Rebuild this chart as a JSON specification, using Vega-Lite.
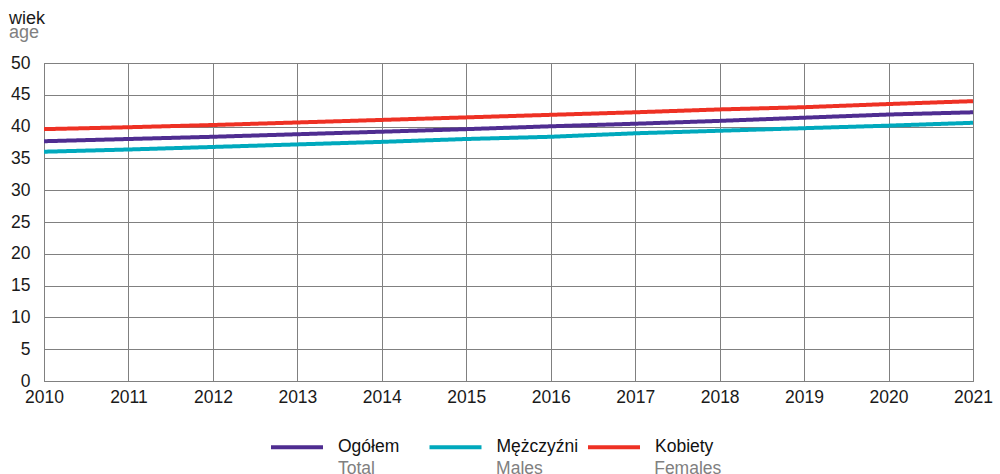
{
  "$schema": "https://vega.github.io/schema/vega-lite/v6.json",
  "width": 929,
  "height": 318,
  "autosize": {"type": "none"},
  "padding": {"left": 44, "top": 63, "right": 27, "bottom": 93},
  "background": "white",
  "config": {
    "font": "Liberation Sans",
    "view": {"stroke": "#808080", "strokeWidth": 1}
  },
  "title": {
    "text": "wiek",
    "subtitle": "age",
    "anchor": "start",
    "frame": "group",
    "dx": -35,
    "fontSize": 18,
    "fontWeight": "normal",
    "color": "#1a1a1a",
    "subtitleFontSize": 18,
    "subtitleColor": "#808080",
    "subtitlePadding": -4,
    "offset": 12
  },
  "data": {
    "values": [
      {"year": 2010, "series": "Ogółem", "en": "Total", "value": 37.7},
      {"year": 2011, "series": "Ogółem", "en": "Total", "value": 38.05},
      {"year": 2012, "series": "Ogółem", "en": "Total", "value": 38.4},
      {"year": 2013, "series": "Ogółem", "en": "Total", "value": 38.8},
      {"year": 2014, "series": "Ogółem", "en": "Total", "value": 39.2},
      {"year": 2015, "series": "Ogółem", "en": "Total", "value": 39.6},
      {"year": 2016, "series": "Ogółem", "en": "Total", "value": 40.05},
      {"year": 2017, "series": "Ogółem", "en": "Total", "value": 40.45},
      {"year": 2018, "series": "Ogółem", "en": "Total", "value": 40.9},
      {"year": 2019, "series": "Ogółem", "en": "Total", "value": 41.4},
      {"year": 2020, "series": "Ogółem", "en": "Total", "value": 41.9},
      {"year": 2021, "series": "Ogółem", "en": "Total", "value": 42.25},
      {"year": 2010, "series": "Mężczyźni", "en": "Males", "value": 36.05},
      {"year": 2011, "series": "Mężczyźni", "en": "Males", "value": 36.4},
      {"year": 2012, "series": "Mężczyźni", "en": "Males", "value": 36.8},
      {"year": 2013, "series": "Mężczyźni", "en": "Males", "value": 37.2},
      {"year": 2014, "series": "Mężczyźni", "en": "Males", "value": 37.6},
      {"year": 2015, "series": "Mężczyźni", "en": "Males", "value": 38.05},
      {"year": 2016, "series": "Mężczyźni", "en": "Males", "value": 38.4},
      {"year": 2017, "series": "Mężczyźni", "en": "Males", "value": 38.95},
      {"year": 2018, "series": "Mężczyźni", "en": "Males", "value": 39.35},
      {"year": 2019, "series": "Mężczyźni", "en": "Males", "value": 39.75},
      {"year": 2020, "series": "Mężczyźni", "en": "Males", "value": 40.15},
      {"year": 2021, "series": "Mężczyźni", "en": "Males", "value": 40.6},
      {"year": 2010, "series": "Kobiety", "en": "Females", "value": 39.6},
      {"year": 2011, "series": "Kobiety", "en": "Females", "value": 39.9},
      {"year": 2012, "series": "Kobiety", "en": "Females", "value": 40.25},
      {"year": 2013, "series": "Kobiety", "en": "Females", "value": 40.65},
      {"year": 2014, "series": "Kobiety", "en": "Females", "value": 41.05},
      {"year": 2015, "series": "Kobiety", "en": "Females", "value": 41.45},
      {"year": 2016, "series": "Kobiety", "en": "Females", "value": 41.85},
      {"year": 2017, "series": "Kobiety", "en": "Females", "value": 42.25},
      {"year": 2018, "series": "Kobiety", "en": "Females", "value": 42.7},
      {"year": 2019, "series": "Kobiety", "en": "Females", "value": 43.05},
      {"year": 2020, "series": "Kobiety", "en": "Females", "value": 43.55},
      {"year": 2021, "series": "Kobiety", "en": "Females", "value": 44.0}
    ]
  },
  "mark": {"type": "line", "strokeWidth": 4, "clip": false},
  "encoding": {
    "x": {
      "field": "year",
      "type": "quantitative",
      "scale": {"domain": [2010, 2021], "nice": false, "zero": false},
      "axis": {
        "title": null,
        "values": [2010, 2011, 2012, 2013, 2014, 2015, 2016, 2017, 2018, 2019, 2020, 2021],
        "format": "d",
        "labelFontSize": 17.5,
        "labelColor": "#1a1a1a",
        "labelPadding": 7,
        "labelFlush": false,
        "labelOverlap": false,
        "tickSize": 0,
        "grid": true,
        "gridColor": "#808080",
        "gridWidth": 1,
        "gridOpacity": 1,
        "domainColor": "#808080",
        "domainWidth": 1
      }
    },
    "y": {
      "field": "value",
      "type": "quantitative",
      "scale": {"domain": [0, 50], "nice": false},
      "axis": {
        "title": null,
        "values": [0, 5, 10, 15, 20, 25, 30, 35, 40, 45, 50],
        "labelFontSize": 17.5,
        "labelColor": "#1a1a1a",
        "labelPadding": 14,
        "tickSize": 0,
        "grid": true,
        "gridColor": "#808080",
        "gridWidth": 1,
        "gridOpacity": 1,
        "domainColor": "#808080",
        "domainWidth": 1
      }
    },
    "color": {
      "field": "series",
      "type": "nominal",
      "scale": {
        "domain": ["Ogółem", "Mężczyźni", "Kobiety"],
        "range": ["#4F2D91", "#00A9BD", "#EE3124"]
      },
      "legend": {
        "title": null,
        "orient": "none",
        "direction": "horizontal",
        "columns": 3,
        "gridAlign": "all",
        "legendX": 225,
        "legendY": 356,
        "padding": 0,
        "symbolType": "stroke",
        "symbolSize": 2704,
        "symbolStrokeWidth": 4,
        "labelOffset": 13,
        "columnPadding": 1.5,
        "labelFontSize": 17.5,
        "labelColor": "#111111"
      }
    },
    "strokeDash": {
      "field": "en",
      "type": "nominal",
      "scale": {
        "domain": ["Total", "Males", "Females"],
        "range": [[1, 0], [1, 0], [1, 0]]
      },
      "legend": {
        "title": null,
        "orient": "none",
        "direction": "horizontal",
        "columns": 3,
        "gridAlign": "all",
        "legendX": 225,
        "legendY": 378,
        "padding": 0,
        "symbolType": "stroke",
        "symbolSize": 2704,
        "symbolStrokeWidth": 4,
        "symbolOpacity": 0,
        "labelOffset": 13,
        "columnPadding": 21.1,
        "labelFontSize": 17.5,
        "labelColor": "#808080"
      }
    }
  }
}
